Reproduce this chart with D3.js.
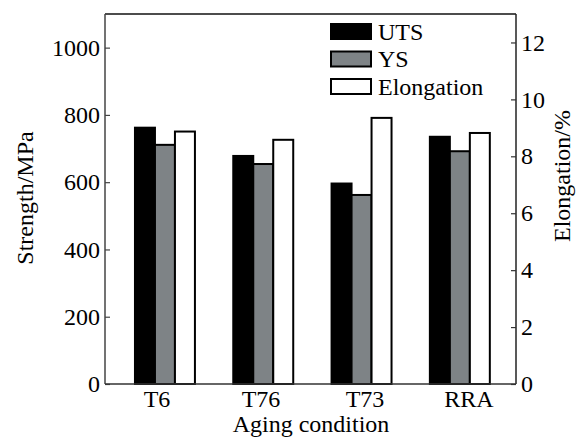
<!DOCTYPE html>
<html>
<head>
<meta charset="utf-8">
<script src="https://cdn.jsdelivr.net/npm/d3@7"></script>
<style>
  body { margin: 0; background: #fff; }
</style>
</head>
<body>
<div id="chart"></div>
<script>
// data
const conditions = ["T6", "T76", "T73", "RRA"];
const series = ["UTS", "YS", "Elongation"];
const uts = [762, 678, 596, 735];
const ys = [711, 654, 562, 692];
const elongation = [8.87, 8.58, 9.35, 8.82];
const strengthTicks = [0, 200, 400, 600, 800, 1000];
const elongTicks = [0, 2, 4, 6, 8, 10, 12];

const width = 584, height = 442;
const plotLeft = 105, plotRight = 516, plotTop = 14, plotBottom = 384;
const fontSize = 24;
const serif = "'Liberation Serif', 'DejaVu Serif', serif";

const svg = d3.select("#chart").append("svg")
  .attr("width", width)
  .attr("height", height)
  .attr("font-family", serif);

// scales
const yL = d3.scaleLinear().domain([0, 1100]).range([plotBottom, plotTop]);
const yR = d3.scaleLinear().domain([0, 13]).range([plotBottom, plotTop]);
const xGroup = d3.scaleBand().domain(conditions)
  .range([115.8, 509]).paddingInner(0.39).paddingOuter(0.195);
const xInner = d3.scaleBand().domain(series).range([0, xGroup.bandwidth()]);
const xLabel = d3.scalePoint().domain(conditions).range([157, 469]);

const fills = { UTS: "#000", YS: "#7e8386", Elongation: "#fff" };

const rows = conditions.map((c, i) => ({
  cond: c,
  vals: [
    { s: "UTS", v: uts[i], y: yL },
    { s: "YS", v: ys[i], y: yL },
    { s: "Elongation", v: elongation[i], y: yR }
  ]
}));

// bars
const groups = svg.append("g").selectAll("g")
  .data(rows)
  .enter().append("g")
  .attr("transform", d => `translate(${xGroup(d.cond)},0)`);

groups.selectAll("rect")
  .data(d => d.vals)
  .enter().append("rect")
  .attr("x", d => xInner(d.s))
  .attr("width", xInner.bandwidth())
  .attr("y", d => d.y(d.v))
  .attr("height", d => plotBottom - d.y(d.v))
  .attr("fill", d => fills[d.s])
  .attr("stroke", "#000")
  .attr("stroke-width", 2);

// frame
svg.append("line").attr("x1", plotLeft).attr("x2", plotRight).attr("y1", plotTop).attr("y2", plotTop)
  .attr("stroke", "#111").attr("stroke-width", 1.5);

// left axis
const axL = svg.append("g")
  .attr("transform", `translate(${plotLeft},0)`)
  .call(d3.axisRight(yL).tickValues(strengthTicks).tickSize(5).tickFormat(d3.format("d")))
  .attr("font-family", serif);
axL.select(".domain").attr("stroke", "#444").attr("stroke-width", 1.5).attr("d", `M0,${plotTop}V${plotBottom}`);
axL.selectAll(".tick line").attr("stroke", "#444").attr("stroke-width", 1.2);
axL.selectAll(".tick text")
  .attr("x", -5).attr("text-anchor", "end")
  .attr("font-size", fontSize);

// right axis
const axR = svg.append("g")
  .attr("transform", `translate(${plotRight},0)`)
  .call(d3.axisLeft(yR).tickValues(elongTicks).tickSize(5))
  .attr("font-family", serif);
axR.select(".domain").attr("stroke", "#222").attr("stroke-width", 1.5).attr("d", `M0,${plotTop}V${plotBottom}`);
axR.selectAll(".tick line").attr("stroke", "#333").attr("stroke-width", 1.2);
axR.selectAll(".tick text")
  .attr("x", 5).attr("text-anchor", "start")
  .attr("font-size", fontSize);

// bottom axis line
svg.append("line").attr("x1", plotLeft).attr("x2", plotRight).attr("y1", plotBottom).attr("y2", plotBottom)
  .attr("stroke", "#333").attr("stroke-width", 1.5);

// category labels
svg.append("g").selectAll("text")
  .data(conditions)
  .enter().append("text")
  .attr("x", d => xLabel(d))
  .attr("y", 407)
  .attr("text-anchor", "middle")
  .attr("font-size", fontSize)
  .text(d => d);

// axis titles
svg.append("text")
  .attr("x", 311).attr("y", 432)
  .attr("text-anchor", "middle")
  .attr("font-size", fontSize)
  .text("Aging condition");

svg.append("text")
  .attr("transform", "translate(33,198) rotate(-90)")
  .attr("text-anchor", "middle")
  .attr("font-size", fontSize)
  .text("Strength/MPa");

svg.append("text")
  .attr("transform", "translate(570,176) rotate(-90)")
  .attr("text-anchor", "middle")
  .attr("font-size", fontSize)
  .text("Elongation/%");

// legend
const legend = svg.append("g").attr("transform", "translate(331,24)");
const leg = legend.selectAll("g")
  .data(series)
  .enter().append("g")
  .attr("transform", (d, i) => `translate(0,${i * 27.5})`);
leg.append("rect")
  .attr("width", 40).attr("height", 15)
  .attr("fill", d => fills[d])
  .attr("stroke", "#000").attr("stroke-width", 2);
leg.append("text")
  .attr("x", 47).attr("y", 15.5)
  .attr("font-size", fontSize)
  .text(d => d);
</script>
</body>
</html>
